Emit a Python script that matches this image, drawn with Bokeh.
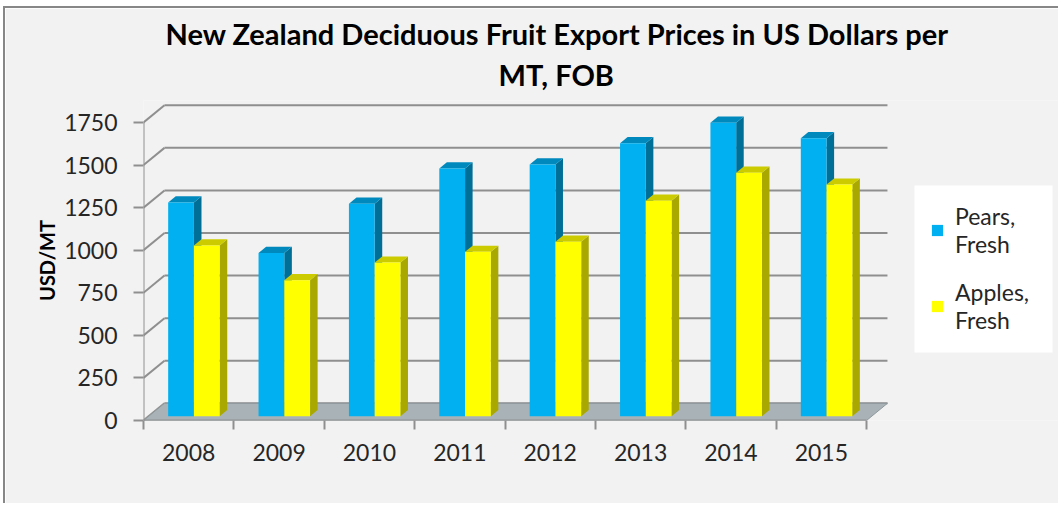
from bokeh.plotting import figure
from bokeh.models import (Range1d, FixedTicker, Legend, LegendItem, Title,
                          ColumnDataSource)
from bokeh.embed import file_html
from bokeh.resources import INLINE

# ---------------- data ----------------
years = ["2008", "2009", "2010", "2011", "2012", "2013", "2014", "2015"]
pears = [1255, 958, 1248, 1455, 1478, 1603, 1723, 1632]
apples = [1003, 798, 902, 965, 1025, 1265, 1430, 1360]
y_ticks = [0, 250, 500, 750, 1000, 1250, 1500, 1750]
series_names = ["Pears,\nFresh", "Apples,\nFresh"]

# ---------------- styling / geometry ----------------
FONT = "Lato"
BG = "#F2F2F2"
GRID = "#8F8F8F"
TXT = "#262626"
PEAR_FRONT, PEAR_SIDE, PEAR_TOP = "#00B0F0", "#006F98", "#0089BD"
APPLE_FRONT, APPLE_SIDE, APPLE_TOP = "#FFFF00", "#A8A800", "#CBCB00"
FLOOR = "#A9B3B7"

W, H = 1055, 497
LEFT, TOP, BOTTOM = 138, 92, 85
FRAME_W = W - LEFT
FRAME_H = H - TOP - BOTTOM
PX_PER_CAT = 90.375
PX_PER_VAL = 0.17029

n = len(years)
WALL_DX, WALL_DY = 0.232, 101.0      # depth of the 3-D box (data units)
F = 0.25                             # depth position of bar front faces
BD = 0.36                            # bar depth as fraction of box depth
BAR_W = 0.285
ox, oy = F * WALL_DX, F * WALL_DY
bdx, bdy = BD * WALL_DX, BD * WALL_DY

# legend box, in pixels from the frame's bottom-left corner
LEG_L, LEG_R, LEG_B, LEG_T = 771, 909, 68, 235

p = figure(width=W, height=H, output_backend="svg", toolbar_location=None,
           x_range=Range1d(0, FRAME_W / PX_PER_CAT),
           y_range=Range1d(0, FRAME_H / PX_PER_VAL),
           min_border_left=LEFT, min_border_right=0, min_border_top=TOP,
           min_border_bottom=BOTTOM)
p.background_fill_color = BG
p.border_fill_color = BG
p.outline_line_color = None
p.xgrid.visible = False
p.ygrid.visible = False
p.styles = {"border-top": "2px solid #878787", "border-left": "2px solid #878787",
            "margin-left": "3px", "margin-top": "6px"}

# back wall + side wall grid lines
x0s, y0s, x1s, y1s = [], [], [], []
for v in y_ticks:
    x0s += [0, WALL_DX]
    y0s += [v, v + WALL_DY]
    x1s += [WALL_DX, n + WALL_DX]
    y1s += [v + WALL_DY, v + WALL_DY]
p.segment(x0s, y0s, x1s, y1s, line_color=GRID, line_width=2)

# floor
p.patch([0, n, n + WALL_DX, WALL_DX], [0, 0, WALL_DY, WALL_DY],
        fill_color=FLOOR, line_color="#8E989C", line_width=1)

# front axis lines
p.segment([0, 0], [0, 0], [0, n], [y_ticks[-1], 0], line_color=GRID, line_width=2)


def bars(vals, left_shift, front, side, top):
    L = [i + 0.5 + ox + left_shift for i in range(n)]
    R = [l + BAR_W for l in L]
    T = [oy + v for v in vals]
    sx = [[r, r + bdx, r + bdx, r] for r in R]
    sy = [[oy, oy + bdy, t + bdy, t] for t in T]
    tx = [[l, r, r + bdx, l + bdx] for l, r in zip(L, R)]
    ty = [[t, t, t + bdy, t + bdy] for t in T]
    p.patches(sx, sy, fill_color=side, line_color=None)
    p.patches(tx, ty, fill_color=top, line_color=None)
    src = ColumnDataSource(dict(left=L, right=R, top=T, bottom=[oy] * n))
    return p.quad(left="left", right="right", top="top", bottom="bottom",
                  source=src, fill_color=front, line_color=None)


r_p = bars(pears, -BAR_W, PEAR_FRONT, PEAR_SIDE, PEAR_TOP)
r_a = bars(apples, 0.0, APPLE_FRONT, APPLE_SIDE, APPLE_TOP)

# white legend panel
p.quad(left=[LEG_L / PX_PER_CAT], right=[LEG_R / PX_PER_CAT],
       bottom=[LEG_B / PX_PER_VAL], top=[LEG_T / PX_PER_VAL],
       fill_color="white", line_color=None)

# axes
ya = p.yaxis[0]
ya.ticker = FixedTicker(ticks=y_ticks)
ya.axis_line_color = None
ya.major_tick_line_color = GRID
ya.major_tick_line_width = 2
ya.major_tick_out = 10
ya.major_tick_in = 0
ya.minor_tick_line_color = None
ya.major_label_text_font = FONT
ya.major_label_text_font_size = "23px"
ya.major_label_text_color = TXT
ya.major_label_standoff = 16
ya.axis_label = "USD/MT"
ya.axis_label_text_font = FONT
ya.axis_label_text_font_size = "20px"
ya.axis_label_text_font_style = "bold"
ya.axis_label_text_color = "#000000"
ya.axis_label_standoff = 2

xa = p.xaxis[0]
xa.ticker = FixedTicker(ticks=[i + 0.5 for i in range(n)],
                        minor_ticks=list(range(n + 1)))
xa.major_label_overrides = {i + 0.5: y for i, y in enumerate(years)}
xa.axis_line_color = None
xa.major_tick_line_color = None
xa.major_tick_out = 8
xa.major_tick_in = 0
xa.minor_tick_line_color = GRID
xa.minor_tick_line_width = 2
xa.minor_tick_out = 9
xa.minor_tick_in = 0
xa.major_label_text_font = FONT
xa.major_label_text_font_size = "23px"
xa.major_label_text_color = TXT
xa.major_label_standoff = 14

# titles (last added = top)
p.add_layout(Title(text="MT, FOB", align="left", offset=355,
                   text_font=FONT, text_font_size="29px", text_font_style="bold",
                   text_color="#000000", standoff=18), "above")
p.add_layout(Title(text="New Zealand Deciduous Fruit Export Prices in US Dollars per",
                   align="left", offset=22, text_font=FONT, text_font_size="29px",
                   text_font_style="bold", text_color="#000000", standoff=-10), "above")

legend = Legend(items=[LegendItem(label=series_names[0], renderers=[r_p]),
                       LegendItem(label=series_names[1], renderers=[r_a])],
                location=(787, 86), background_fill_alpha=0.0,
                border_line_color=None,
                glyph_width=14, glyph_height=14, padding=20, spacing=20,
                label_text_font=FONT, label_text_font_size="23px",
                label_text_color=TXT, label_standoff=11, margin=0)
p.add_layout(legend, "center")

open("out.html", "w").write(file_html(p, INLINE))
